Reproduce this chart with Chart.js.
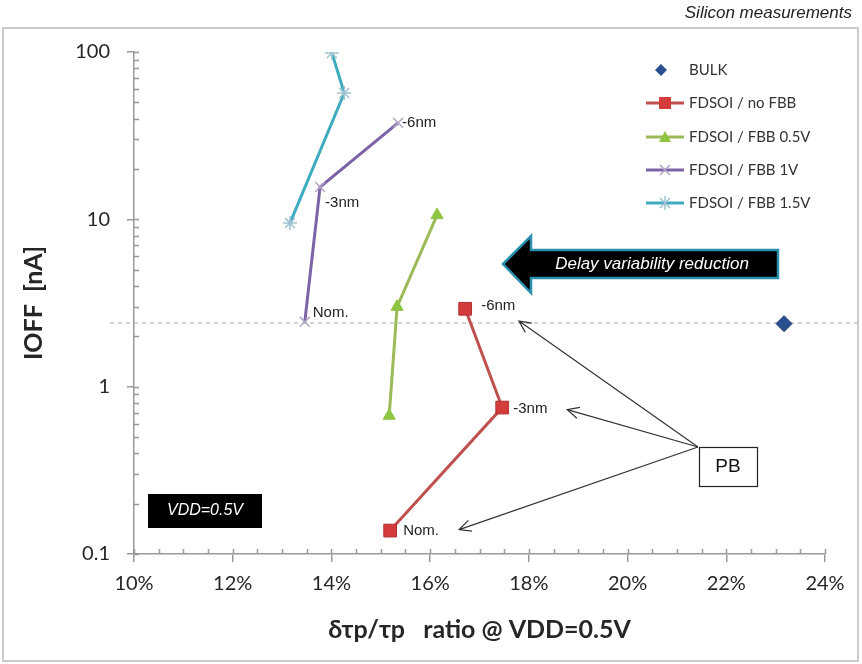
<!DOCTYPE html>
<html>
<head>
<meta charset="utf-8">
<script src="https://cdn.jsdelivr.net/npm/chart.js@4.4.1/dist/chart.umd.min.js"></script>
<style>
  body { margin: 0; background: #fff; }
  #wrap { width: 862px; height: 664px; }
</style>
</head>
<body>
<div id="wrap"><canvas id="myChart" width="862" height="664"></canvas></div>
<script>
// Data (x in %, IOFF in nA)
const seriesNames = ['BULK', 'FDSOI / no FBB', 'FDSOI / FBB 0.5V', 'FDSOI / FBB 1V', 'FDSOI / FBB 1.5V'];
const bulkX = [23.17];
const bulkY = [2.38];
const noFbbX = [15.19, 17.46, 16.71];
const noFbbY = [0.138, 0.75, 2.92];
const fbb05X = [15.17, 15.33, 16.14];
const fbb05Y = [0.67, 3.0, 10.6];
const fbb1X = [13.46, 13.77, 15.35];
const fbb1Y = [2.44, 15.6, 37.7];
const fbb15X = [13.16, 14.26, 14.01];
const fbb15Y = [9.5, 56.9, 98.6];
const pointTags = ['Nom.', '-3nm', '-6nm'];
const xTicks = [10, 12, 14, 16, 18, 20, 22, 24];
const yTicks = [0.1, 1, 10, 100];
const refIoff = 2.4;

const toPoints = (xs, ys) => xs.map((x, i) => ({ x: x, y: ys[i] }));

const styles = [
    { line: null, fill: '#2b4f8e', border: '#1f3f78', point: 'rectRot', radius: 8 },
    { line: '#c0504d', fill: '#d43c3c', border: '#b03030', point: 'rect', radius: 9 },
    { line: '#9bbb59', fill: '#8ec641', border: '#8ec641', point: 'triangle', radius: 7 },
    { line: '#7c62a6', fill: '#b0a4c6', border: '#b0a4c6', point: 'crossRot', radius: 7 },
    { line: '#3fabc0', fill: '#9fc3d2', border: '#9fc3d2', point: 'star', radius: 7 }
];

function makeDataset(i, xs, ys) {
    const s = styles[i];
    return {
        label: seriesNames[i],
        data: toPoints(xs, ys),
        showLine: !!s.line,
        borderColor: s.line || s.fill,
        borderWidth: 3,
        pointStyle: s.point,
        pointRadius: s.radius,
        pointHoverRadius: s.radius,
        pointBackgroundColor: s.fill,
        pointBorderColor: s.border,
        pointBorderWidth: s.point === 'crossRot' || s.point === 'star' ? 1.5 : 1,
        tension: 0,
        fill: false
    };
}

// white page, frame, dashed reference line and inner ticks
const backPlugin = {
    id: 'back',
    beforeDraw(chart) {
        const ctx = chart.ctx;
        ctx.save();
        ctx.fillStyle = '#fff';
        ctx.fillRect(0, 0, chart.width, chart.height);
        ctx.strokeStyle = '#cbcbcb';
        ctx.lineWidth = 2;
        ctx.strokeRect(3, 28, 855, 633);
        ctx.fillStyle = '#222';
        ctx.font = 'italic 17px "Liberation Sans", Arial, sans-serif';
        ctx.textAlign = 'right';
        ctx.textBaseline = 'middle';
        ctx.fillText('Silicon measurements', 852, 13);
        ctx.restore();
    },
    beforeDatasetsDraw(chart) {
        const ctx = chart.ctx;
        const x = chart.scales.x, y = chart.scales.y;
        const area = chart.chartArea;
        ctx.save();
        // dashed reference level
        const py = y.getPixelForValue(refIoff);
        ctx.strokeStyle = '#aaa';
        ctx.lineWidth = 1;
        ctx.setLineDash([4, 4]);
        ctx.beginPath();
        ctx.moveTo(110, py);
        ctx.lineTo(860, py);
        ctx.stroke();
        ctx.setLineDash([]);
        // inner ticks
        ctx.strokeStyle = '#999';
        ctx.lineWidth = 1.5;
        ctx.beginPath();
        for (const d of [0.1, 1, 10]) {
            for (let k = 1; k <= 10; k++) {
                const v = d * k;
                if (v > 100) continue;
                const p = Math.round(y.getPixelForValue(v)) + 0.5;
                ctx.moveTo(area.left, p);
                ctx.lineTo(area.left + 5, p);
            }
        }
        for (let v = 10; v <= 24.001; v += 0.5) {
            const p = Math.round(x.getPixelForValue(v)) + 0.5;
            ctx.moveTo(p, area.bottom);
            ctx.lineTo(p, area.bottom - 5);
        }
        ctx.stroke();
        ctx.restore();
    }
};

function arrow(ctx, x1, y1, x2, y2) {
    const a = Math.atan2(y2 - y1, x2 - x1);
    const h = 13;
    ctx.beginPath();
    ctx.moveTo(x1, y1);
    ctx.lineTo(x2, y2);
    ctx.moveTo(x2 - h * Math.cos(a - 0.45), y2 - h * Math.sin(a - 0.45));
    ctx.lineTo(x2, y2);
    ctx.lineTo(x2 - h * Math.cos(a + 0.45), y2 - h * Math.sin(a + 0.45));
    ctx.stroke();
}

function marker(ctx, style, cx, cy) {
    ctx.save();
    ctx.fillStyle = style.fill;
    ctx.strokeStyle = style.border;
    ctx.lineWidth = 1.5;
    ctx.beginPath();
    if (style.point === 'rect') {
        ctx.rect(cx - 6, cy - 6, 12, 12);
        ctx.fill();
    } else if (style.point === 'rectRot') {
        ctx.moveTo(cx, cy - 6); ctx.lineTo(cx + 6, cy); ctx.lineTo(cx, cy + 6); ctx.lineTo(cx - 6, cy);
        ctx.closePath();
        ctx.fill();
    } else if (style.point === 'triangle') {
        ctx.moveTo(cx, cy - 6); ctx.lineTo(cx + 6, cy + 5); ctx.lineTo(cx - 6, cy + 5);
        ctx.closePath();
        ctx.fill();
    } else {
        ctx.moveTo(cx - 5, cy - 5); ctx.lineTo(cx + 5, cy + 5);
        ctx.moveTo(cx + 5, cy - 5); ctx.lineTo(cx - 5, cy + 5);
        if (style.point === 'star') { ctx.moveTo(cx, cy - 7); ctx.lineTo(cx, cy + 7); }
        ctx.stroke();
    }
    ctx.restore();
}

// annotations, point tags and legend
const frontPlugin = {
    id: 'front',
    afterDatasetsDraw(chart) {
        const ctx = chart.ctx;
        const x = chart.scales.x, y = chart.scales.y;
        ctx.save();

        // point tags for no FBB (1) and FBB 1V (3)
        ctx.fillStyle = '#222';
        ctx.font = '15px "Liberation Sans", Arial, sans-serif';
        ctx.textAlign = 'left';
        ctx.textBaseline = 'middle';
        const tagOffsets = {
            1: [[13, 0], [11, 1], [16, -3]],
            3: [[8, -9], [5, 16], [4, 0]]
        };
        for (const idx of [1, 3]) {
            const meta = chart.getDatasetMeta(idx);
            meta.data.forEach((pt, j) => {
                const off = tagOffsets[idx][j];
                ctx.fillText(pointTags[j], pt.x + off[0], pt.y + off[1]);
            });
        }

        // big "Delay variability reduction" arrow
        ctx.beginPath();
        ctx.moveTo(503, 264);
        ctx.lineTo(531, 236);
        ctx.lineTo(531, 250);
        ctx.lineTo(778, 250);
        ctx.lineTo(778, 278);
        ctx.lineTo(531, 278);
        ctx.lineTo(531, 293);
        ctx.closePath();
        ctx.fillStyle = '#000';
        ctx.fill();
        ctx.strokeStyle = '#2b8fb0';
        ctx.lineWidth = 2.5;
        ctx.stroke();
        ctx.fillStyle = '#fff';
        ctx.font = 'italic 17px "Liberation Sans", Arial, sans-serif';
        ctx.textAlign = 'center';
        ctx.fillText('Delay variability reduction', 652, 264);

        // VDD box
        ctx.fillStyle = '#000';
        ctx.fillRect(148, 494, 114, 34);
        ctx.fillStyle = '#fff';
        ctx.font = 'italic 16px "Liberation Sans", Arial, sans-serif';
        ctx.fillText('VDD=0.5V', 205, 511);

        // PB box and arrows
        ctx.strokeStyle = '#333';
        ctx.lineWidth = 1.2;
        const ox = 698, oy = 447;
        const redMeta = chart.getDatasetMeta(1);
        arrow(ctx, ox, oy, x.getPixelForValue(17.8), y.getPixelForValue(refIoff) - 2);
        arrow(ctx, ox, oy, redMeta.data[1].x + 65, redMeta.data[1].y + 2);
        arrow(ctx, ox, oy, redMeta.data[0].x + 69, redMeta.data[0].y - 1);
        ctx.fillStyle = '#fff';
        ctx.fillRect(699, 447, 58, 39);
        ctx.strokeStyle = '#222';
        ctx.lineWidth = 1.2;
        ctx.strokeRect(699.5, 447.5, 58, 39);
        ctx.fillStyle = '#111';
        ctx.font = '19px "Liberation Sans", Arial, sans-serif';
        ctx.fillText('PB', 728, 467);
        ctx.restore();
    },
    afterDraw(chart) {
        const ctx = chart.ctx;
        ctx.save();
        const rows = [70, 103, 137, 170, 203];
        ctx.font = '15px Lato, "Open Sans", sans-serif';
        ctx.textAlign = 'left';
        ctx.textBaseline = 'middle';
        seriesNames.forEach((name, i) => {
            const s = styles[i];
            const cy = rows[i];
            if (s.line) {
                ctx.strokeStyle = s.line;
                ctx.lineWidth = 3;
                ctx.beginPath();
                ctx.moveTo(646, cy);
                ctx.lineTo(684, cy);
                ctx.stroke();
            }
            marker(ctx, s, i === 0 ? 661 : 665, cy);
            ctx.fillStyle = '#333';
            ctx.fillText(name, 689, cy);
        });
        ctx.restore();
    }
};

const ctx = document.getElementById('myChart');
const tickFont = { family: 'Lato, "Open Sans", sans-serif', size: 20 };
const titleFont = { family: 'Lato, "Open Sans", sans-serif', size: 25, weight: 'bold' };

new Chart(ctx, {
    type: 'scatter',
    data: {
        datasets: [
            makeDataset(0, bulkX, bulkY),
            makeDataset(1, noFbbX, noFbbY),
            makeDataset(2, fbb05X, fbb05Y),
            makeDataset(3, fbb1X, fbb1Y),
            makeDataset(4, fbb15X, fbb15Y)
        ]
    },
    options: {
        responsive: false,
        animation: false,
        layout: { padding: { top: 52, right: 37, bottom: 0, left: 0 } },
        plugins: {
            legend: { display: false },
            tooltip: { enabled: false }
        },
        scales: {
            x: {
                type: 'linear',
                min: 10,
                max: 24,
                afterBuildTicks: scale => { scale.ticks = xTicks.map(v => ({ value: v })); },
                afterFit: scale => { scale.height = 110; },
                ticks: {
                    callback: v => v + '%',
                    font: tickFont,
                    color: '#262626',
                    padding: 10,
                    maxRotation: 0
                },
                grid: { drawOnChartArea: false, drawTicks: true, tickLength: 8, color: '#999', lineWidth: 1.5 },
                border: { color: '#999', width: 1.5 },
                title: {
                    display: true,
                    text: 'δτp/τp   ratio @ VDD=0.5V',
                    font: titleFont,
                    color: '#262626',
                    padding: { top: 0, bottom: 19 }
                }
            },
            y: {
                type: 'logarithmic',
                min: 0.1,
                max: 100,
                afterBuildTicks: scale => { scale.ticks = yTicks.map(v => ({ value: v })); },
                afterFit: scale => { scale.width = 134; },
                ticks: {
                    callback: v => String(v),
                    font: tickFont,
                    color: '#262626',
                    padding: 17
                },
                grid: { drawOnChartArea: false, drawTicks: true, tickLength: 7, color: '#999', lineWidth: 1.5 },
                border: { color: '#999', width: 1.5 },
                title: {
                    display: true,
                    text: 'IOFF  [nA]',
                    font: titleFont,
                    color: '#262626',
                    padding: { top: 19, bottom: 0 }
                }
            }
        }
    },
    plugins: [backPlugin, frontPlugin]
});
</script>
</body>
</html>
